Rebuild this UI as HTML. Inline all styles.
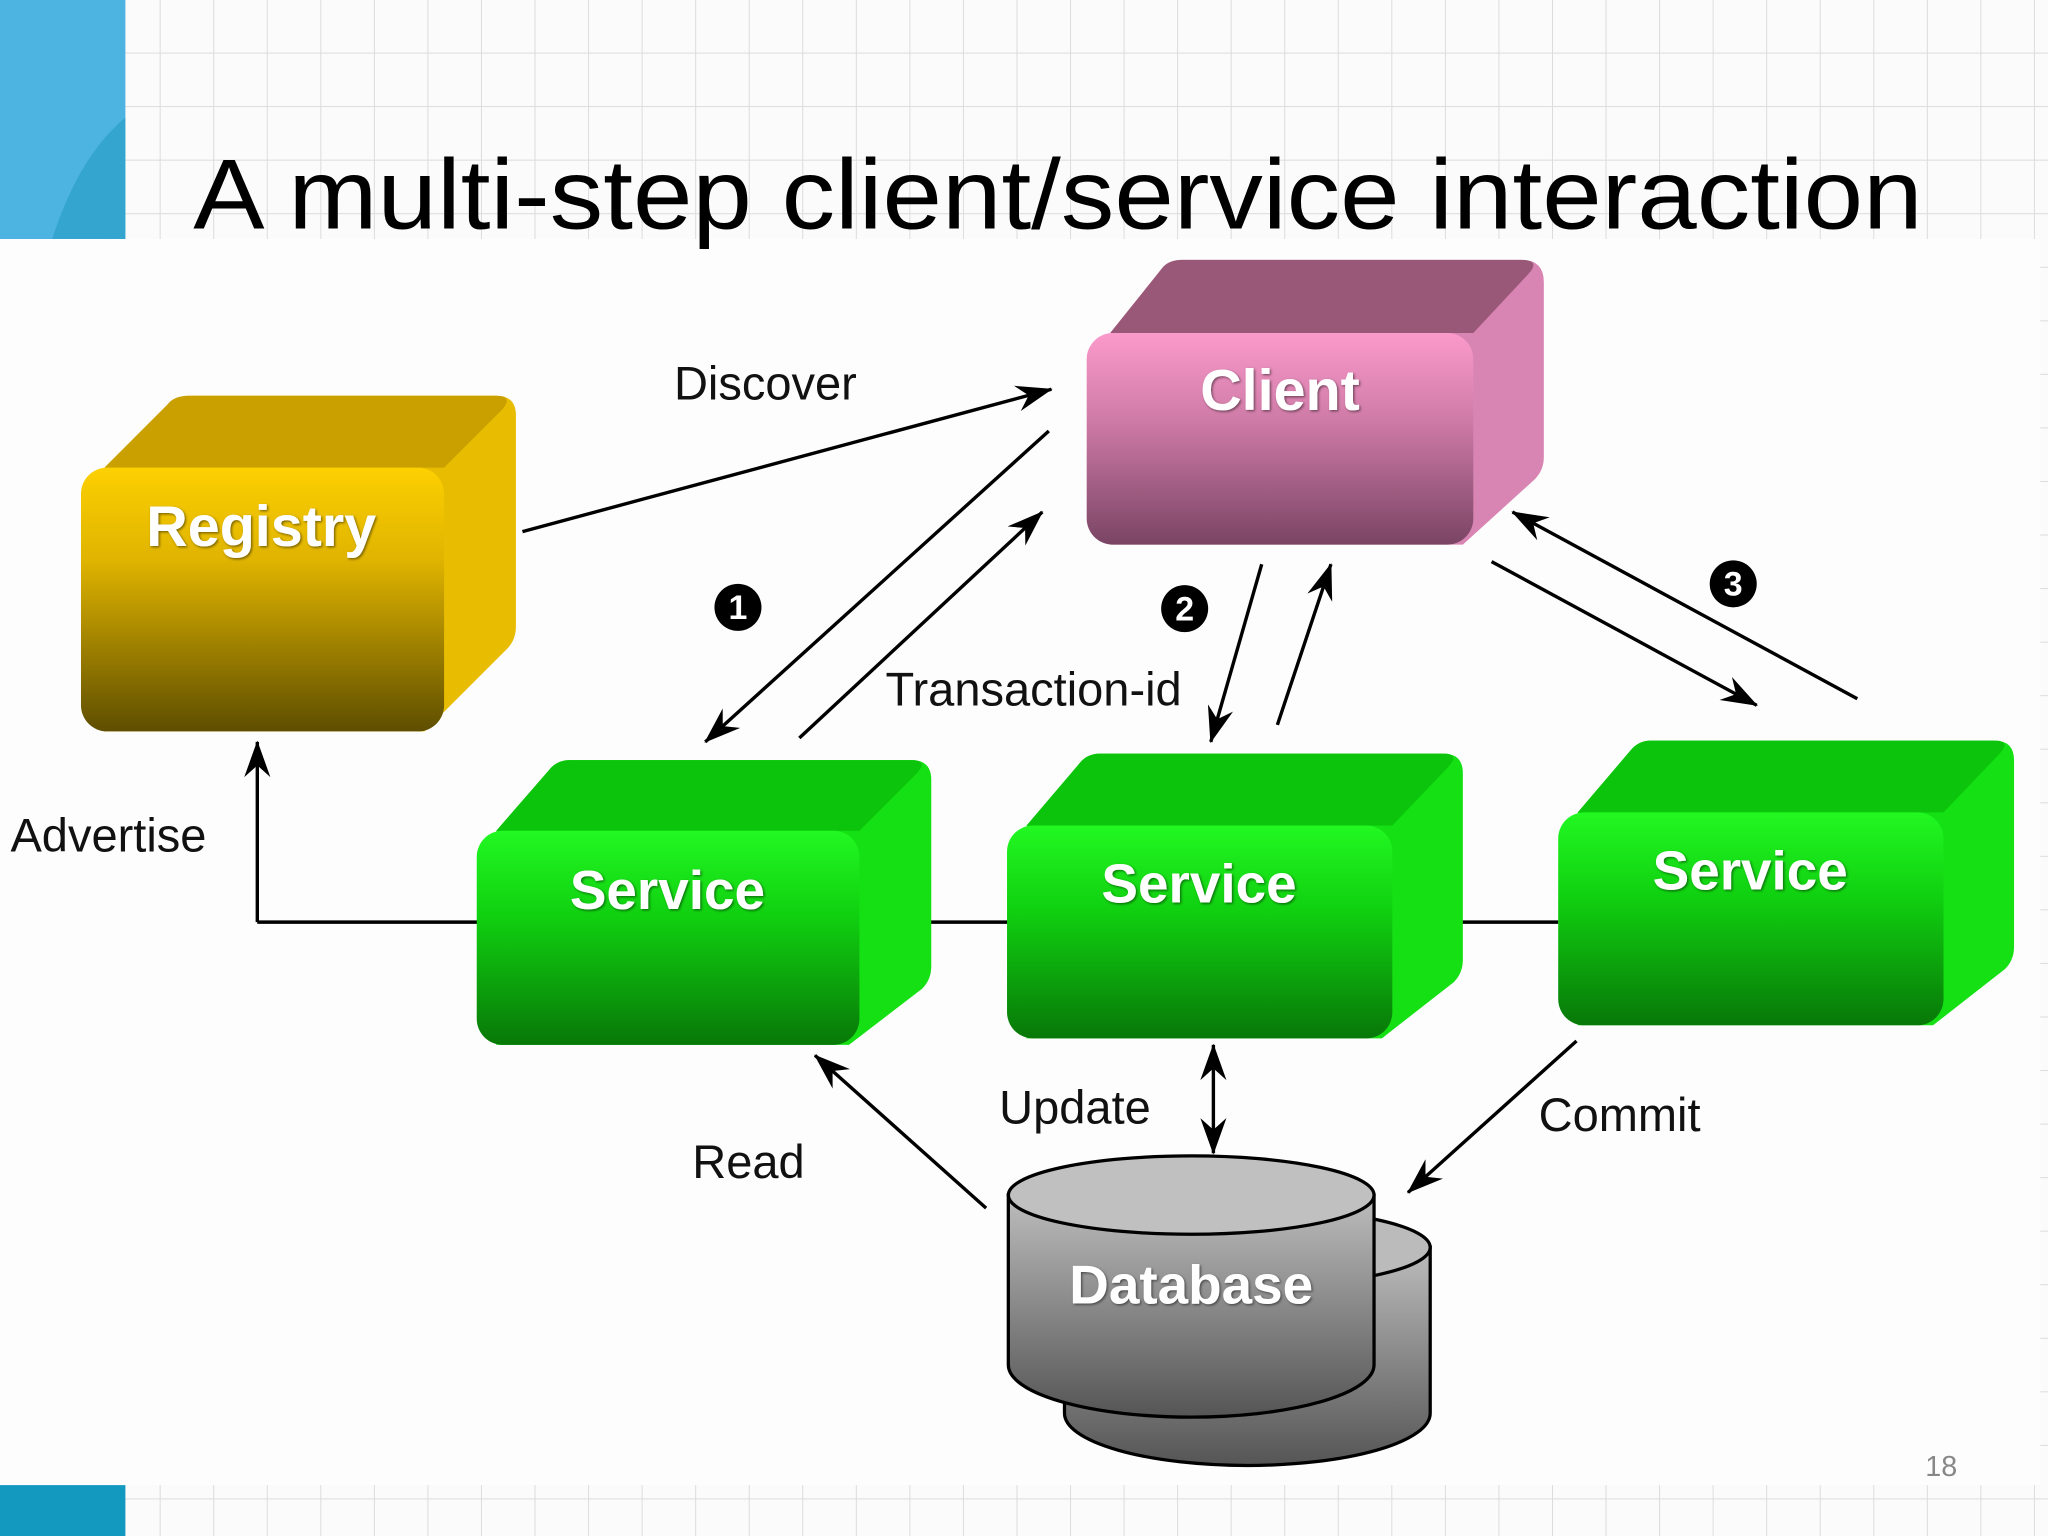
<!DOCTYPE html>
<html><head><meta charset="utf-8"><style>html,body{margin:0;padding:0;background:#fff}svg{display:block}</style></head>
<body>
<svg width="2048" height="1536" viewBox="0 0 1568 1176" xmlns="http://www.w3.org/2000/svg" font-family="Liberation Sans, sans-serif">
<defs>
<pattern id="grid" width="41" height="41" patternUnits="userSpaceOnUse">
<path d="M41 0V41M0 41H41" stroke="#dcdcdc" stroke-width="1.5" fill="none"/>
</pattern>
<linearGradient id="gReg" x1="0" y1="0" x2="0" y2="1"><stop offset="0" stop-color="#fcd000"/><stop offset="0.35" stop-color="#e0b400"/><stop offset="1" stop-color="#5e4e00"/></linearGradient>
<linearGradient id="gCli" x1="0" y1="0" x2="0" y2="1"><stop offset="0" stop-color="#fb9acb"/><stop offset="0.4" stop-color="#d07ca8"/><stop offset="1" stop-color="#7a4464"/></linearGradient>
<linearGradient id="gSrv" x1="0" y1="0" x2="0" y2="1"><stop offset="0" stop-color="#22f822"/><stop offset="0.4" stop-color="#10d010"/><stop offset="1" stop-color="#087808"/></linearGradient>
<linearGradient id="gDb" x1="0" y1="0" x2="0" y2="1"><stop offset="0" stop-color="#bdbdbd"/><stop offset="1" stop-color="#555"/></linearGradient>
<marker id="ah" viewBox="0 0 28 20" refX="27" refY="10" markerWidth="28" markerHeight="20" markerUnits="userSpaceOnUse" orient="auto-start-reverse">
<path d="M0 0L28 10L0 20L9 10Z" fill="#000"/></marker>
<filter id="ts"><feDropShadow dx="1" dy="1" stdDeviation="1" flood-color="#000" flood-opacity="0.5"/></filter>
</defs>
<rect width="1568" height="1176" fill="#fbfbfb"/>
<rect width="1568" height="1176" fill="url(#grid)"/>
<rect x="0" y="0" width="96" height="183" fill="#4db3e0"/>
<path d="M40 183 Q60 120 96 90 L96 183Z" fill="#2aa0c8" opacity="0.7"/>
<rect x="0" y="1137" width="96" height="39" fill="#1398c0"/>
<rect x="0" y="183" width="1562" height="954" fill="#fdfdfd"/>
<text x="148" y="175" font-size="76" fill="#000" textLength="1324" lengthAdjust="spacingAndGlyphs">A multi-step client/service interaction</text>

<g stroke="#000" stroke-width="2.6" fill="none">
<path d="M197 706H1193"/>
<path d="M197 706V568" marker-end="url(#ah)"/>
<path d="M400 407L805 298" marker-end="url(#ah)"/>
<path d="M803 330L540 568" marker-end="url(#ah)"/>
<path d="M612 565L798 392" marker-end="url(#ah)"/>
<path d="M966 432L927 568" marker-end="url(#ah)"/>
<path d="M978 555L1019 432" marker-end="url(#ah)"/>
<path d="M1422 535L1158 392" marker-end="url(#ah)"/>
<path d="M1142 430L1345 540" marker-end="url(#ah)"/>
<path d="M755 925L624 808" marker-end="url(#ah)"/>
<path d="M929 800V883" marker-start="url(#ah)" marker-end="url(#ah)"/>
<path d="M1207 797L1078 913" marker-end="url(#ah)"/>
</g>

<path d="M80 358L128 310Q133 303 145 303H380Q395 303 395 318V480Q395 490 388 497L325 560H80Z" fill="#e8bc00"/>
<path d="M80 358L128 310Q133 303 145 303H380Q393 303 385 313L340 358Z" fill="#c9a000"/>
<rect x="62" y="358" width="278" height="202" rx="20" fill="url(#gReg)"/>
<text x="200" y="418" font-size="44" font-weight="bold" fill="#fff" text-anchor="middle" filter="url(#ts)">Registry</text>

<path d="M850 255L890 205Q895 199 905 199H1165Q1182 199 1182 216V350Q1182 360 1175 367L1120 417H850Z" fill="#d985b3"/>
<path d="M850 255L890 205Q895 199 905 199H1165Q1180 199 1170 210L1128 255Z" fill="#9a5878"/>
<rect x="832" y="255" width="296" height="162" rx="20" fill="url(#gCli)"/>
<text x="980" y="314" font-size="44" font-weight="bold" fill="#fff" text-anchor="middle" filter="url(#ts)">Client</text>

<g>
<path d="M380 636L420 590Q426 582 436 582H698Q713 582 713 597V740Q713 750 706 757L650 800H380Z" fill="#14e014"/>
<path d="M380 636L420 590Q426 582 436 582H698Q711 582 702 592L658 636Z" fill="#0bc40b"/>
<rect x="365" y="636" width="293" height="164" rx="20" fill="url(#gSrv)"/>
<text x="511" y="696" font-size="42" font-weight="bold" fill="#fff" text-anchor="middle" filter="url(#ts)">Service</text>
</g>
<g>
<path d="M786 632L826 585Q832 577 842 577H1105Q1120 577 1120 592V735Q1120 745 1113 752L1058 795H786Z" fill="#14e014"/>
<path d="M786 632L826 585Q832 577 842 577H1105Q1118 577 1109 587L1066 632Z" fill="#0bc40b"/>
<rect x="771" y="632" width="295" height="163" rx="20" fill="url(#gSrv)"/>
<text x="918" y="691" font-size="42" font-weight="bold" fill="#fff" text-anchor="middle" filter="url(#ts)">Service</text>
</g>
<g>
<path d="M1208 622L1248 575Q1254 567 1264 567H1527Q1542 567 1542 582V725Q1542 735 1535 742L1480 785H1208Z" fill="#14e014"/>
<path d="M1208 622L1248 575Q1254 567 1264 567H1527Q1540 567 1531 577L1488 622Z" fill="#0bc40b"/>
<rect x="1193" y="622" width="295" height="163" rx="20" fill="url(#gSrv)"/>
<text x="1340" y="681" font-size="42" font-weight="bold" fill="#fff" text-anchor="middle" filter="url(#ts)">Service</text>
</g>

<g stroke="#000" stroke-width="2.5">
<path d="M815 955V1082A140 40 0 0 0 1095 1082V955Z" fill="url(#gDb)"/>
<ellipse cx="955" cy="955" rx="140" ry="30" fill="#bbb"/>
<path d="M772 915V1045A140 40 0 0 0 1052 1045V915Z" fill="url(#gDb)"/>
<ellipse cx="912" cy="915" rx="140" ry="30" fill="#c0c0c0"/>
</g>
<text x="912" y="998" font-size="42" font-weight="bold" fill="#fff" text-anchor="middle" filter="url(#ts)">Database</text>

<g font-size="36" fill="#111">
<text x="516" y="306">Discover</text>
<text x="678" y="540">Transaction-id</text>
<text x="8" y="652">Advertise</text>
<text x="765" y="860">Update</text>
<text x="530" y="902">Read</text>
<text x="1178" y="866">Commit</text>
</g>
<g font-size="26" font-weight="bold" fill="#fff" text-anchor="middle">
<circle cx="565" cy="465" r="18" fill="#000"/><text x="565" y="474">1</text>
<circle cx="907" cy="466" r="18" fill="#000"/><text x="907" y="475">2</text>
<circle cx="1327" cy="447" r="18" fill="#000"/><text x="1327" y="456">3</text>
</g>
<text x="1474" y="1130" font-size="22" fill="#888">18</text>
</svg>
</body></html>
